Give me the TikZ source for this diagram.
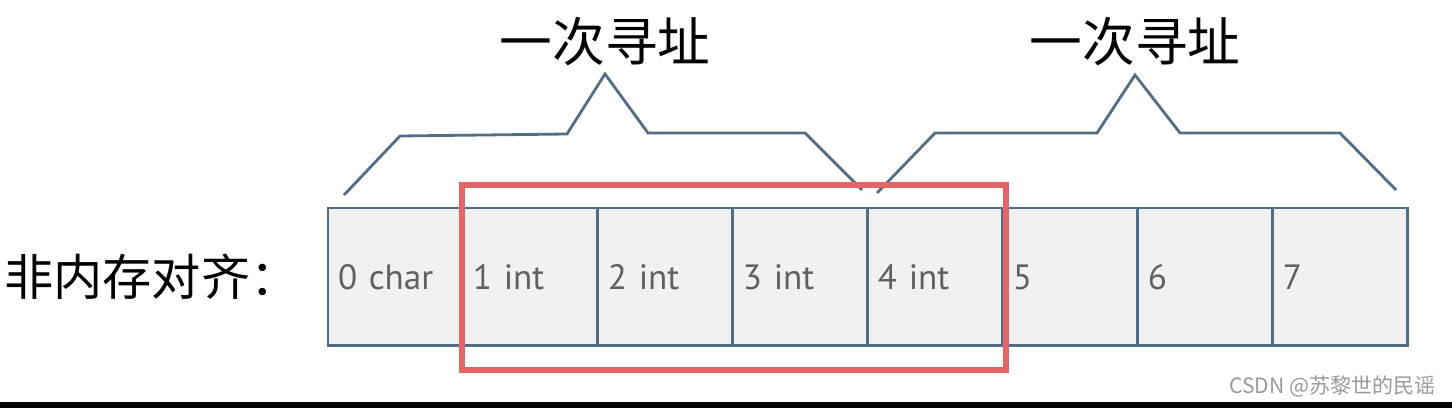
\documentclass[tikz,border=0pt]{standalone}
\usepackage{fontspec}
\setmainfont{PT Sans}
\newfontfamily\cjkfont{Noto Sans CJK SC}
\usetikzlibrary{positioning,calc}
\definecolor{boxblue}{RGB}{82,110,134}
\definecolor{boxfill}{RGB}{241,241,241}
\definecolor{framered}{RGB}{229,100,102}
\definecolor{celltext}{RGB}{96,96,96}
\tikzset{%
  cell/.style={draw=boxblue,line width=1.7pt,fill=boxfill,minimum width=2.7cm,
    minimum height=2.76cm,text width=2.3cm,inner xsep=0.2cm,outer sep=0pt,
    align=left,text=celltext,font=\fontsize{20}{24}\selectfont},
  title/.style={inner sep=0pt,font=\cjkfont\fontsize{30}{36}\selectfont},
  brace/.style={draw=boxblue,line width=1.6pt},
  frame/.style={draw=framered,line width=3pt}
}
\begin{document}
\begin{tikzpicture}[x=0.02cm,y=-0.02cm]
  \useasboundingbox (0,0) rectangle (1452,408);
  % memory cells
  \node[cell,anchor=north west] (c0) at (328,208) {0 char};
  \foreach \t [count=\i] in {1 int,2 int,3 int,4 int,5,6,7}{
    \pgfmathtruncatemacro\prev{\i-1}
    \node[cell,right=0pt of c\prev] (c\i) {\t};
  }
  \node[inner sep=0pt,anchor=west,font=\cjkfont\fontsize{28}{34}\selectfont]
    (lbl) at (4,277) {非内存对齐：};
  % two accesses
  \node[title] (t1) at (605,42) {一次寻址};
  \node[title] (t2) at (1135,42) {一次寻址};
  \draw[brace] (344,195) -- (400,136) -- (567,134) -- (605,74) -- (648,133)
    -- (805,133) -- (862,190);
  \draw[brace] (877,193) -- (935,133) -- (1097,133) -- (1135,75) -- (1180,133)
    -- (1340,133) -- (1396,190);
  \draw[frame] (462,185) rectangle (1006,370);
  \node[anchor=east,inner sep=0pt,text=black!40,font=\cjkfont\fontsize{12}{14}\selectfont]
    (mark) at (1436,386) {CSDN @苏黎世的民谣};
  \fill[black] (0,402) rectangle (1452,408);
\end{tikzpicture}
\end{document}
